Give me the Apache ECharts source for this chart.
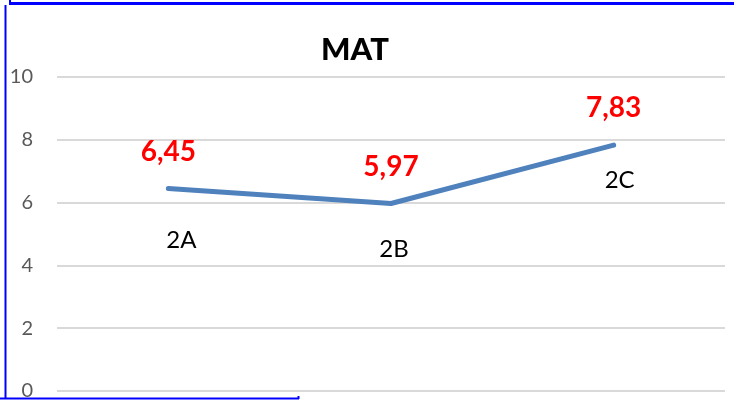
<!DOCTYPE html>
<html lang="pt">
<head>
  <meta charset="UTF-8">
  <title>MAT</title>
  <script src="https://cdn.jsdelivr.net/npm/echarts@6/dist/echarts.min.js"></script>
  <style>
    html, body { margin: 0; padding: 0; background: #fff; }
    #main { width: 734px; height: 401px; }
  </style>
</head>
<body>
<div id="main"></div>
<script type="text/javascript">
  const classes = ['2A', '2B', '2C'];
  const matValues = [6.45, 5.97, 7.83];
  const yTicks = [0, 2, 4, 6, 8, 10];

  // where each class name sits relative to its point
  const nameOffsets = [[13, 52], [3, 46], [6, 35]];

  const chart = echarts.init(document.getElementById('main'));

  const option = {
    animation: false,
    title: {
      text: 'MAT',
      left: 350,
      top: 29,
      textAlign: 'center',
      textStyle: {fontFamily: 'Lato', fontWeight: 900, fontSize: 31, color: '#000'}
    },
    grid: {left: 57, right: 9, top: 77, bottom: 10},
    xAxis: {
      type: 'category',
      data: classes,
      boundaryGap: true,
      axisLine: {show: false},
      axisTick: {show: false},
      axisLabel: {show: false}
    },
    yAxis: {
      type: 'value',
      min: yTicks[0],
      max: yTicks[yTicks.length - 1],
      interval: 2,
      axisLine: {show: false},
      axisTick: {show: false},
      axisLabel: {margin: 24, fontFamily: 'Lato', fontSize: 20, color: '#595959'},
      splitLine: {lineStyle: {color: '#D9D9D9', width: 2}}
    },
    series: [
      {
        type: 'line',
        data: matValues,
        symbol: 'circle',
        symbolSize: 2,
        showSymbol: true,
        itemStyle: {color: 'rgba(0,0,0,0)'},
        lineStyle: {color: '#4F81BD', width: 5, cap: 'round', join: 'round'},
        label: {
          show: true,
          position: 'inside',
          offset: [0, -37],
          fontFamily: 'Lato',
          fontWeight: 'bold',
          fontSize: 28,
          color: '#FF0000',
          formatter: (p) => p.value.toFixed(2).replace('.', ',')
        }
      },
      {
        type: 'line',
        data: matValues.map((v, i) => ({
          value: v,
          label: {offset: nameOffsets[i]}
        })),
        symbol: 'circle',
        symbolSize: 2,
        showSymbol: true,
        itemStyle: {color: 'rgba(0,0,0,0)'},
        lineStyle: {width: 0, opacity: 0},
        silent: true,
        label: {
          show: true,
          position: 'inside',
          fontFamily: 'Lato',
          fontSize: 24,
          color: '#000',
          formatter: (p) => classes[p.dataIndex]
        }
      }
    ],
    graphic: [
      {type: 'line', shape: {x1: 9, y1: 3.5, x2: 734, y2: 3.5}, style: {stroke: '#0000FF', lineWidth: 3}},
      {type: 'line', shape: {x1: 10, y1: 0, x2: 10, y2: 4}, style: {stroke: '#0000FF', lineWidth: 2}},
      {type: 'line', shape: {x1: 5.5, y1: 5, x2: 5.5, y2: 399}, style: {stroke: '#0000FF', lineWidth: 2}},
      {type: 'line', shape: {x1: 0, y1: 398.5, x2: 299, y2: 398.5}, style: {stroke: '#0000FF', lineWidth: 2}},
      {type: 'line', shape: {x1: 298.5, y1: 396, x2: 298.5, y2: 399}, style: {stroke: '#0000FF', lineWidth: 2}}
    ]
  };

  chart.setOption(option);
</script>
</body>
</html>
